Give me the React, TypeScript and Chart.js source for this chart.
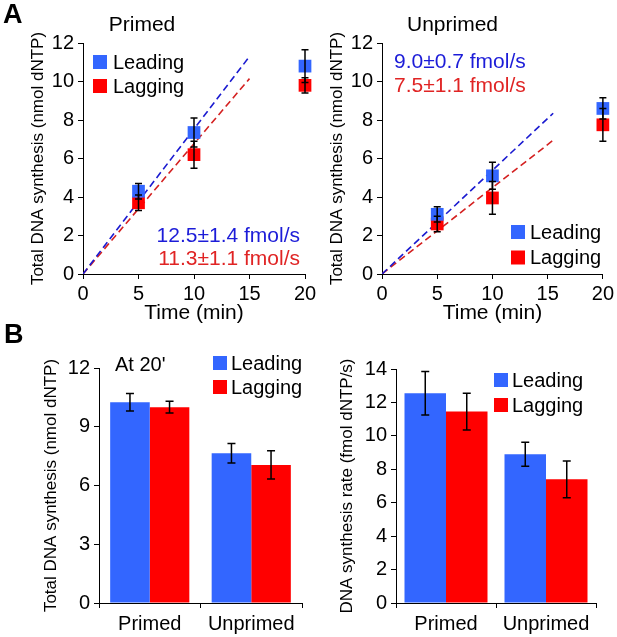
import React, { useEffect, useRef } from "react";
import { Chart, registerables } from "chart.js";
Chart.register(...registerables);

const FONT = "'Liberation Sans', Arial, sans-serif";
const BLUE = "#3366ff";
const RED = "#ff0000";
const LINE_BLUE = "#1a1ad0";
const LINE_RED = "#d42020";
const TEXT_BLUE = "#1c1cd8";
const TEXT_RED = "#e02424";

// ---------- Panel A data ----------
const timePoints = [5, 10, 20];
const timeTicks = [0, 5, 10, 15, 20];
const primedLeading = [4.3, 7.35, 10.8];
const primedLeadingErr = [0.4, 0.75, 0.85];
const primedLagging = [3.7, 6.2, 9.8];
const primedLaggingErr = [0.4, 0.7, 0.4];
const unprimedLeading = [3.1, 5.1, 8.6];
const unprimedLeadingErr = [0.4, 0.7, 0.55];
const unprimedLagging = [2.6, 3.95, 7.75];
const unprimedLaggingErr = [0.4, 0.85, 0.85];
// linear fit lines (end points)
const primedFitX = [0, 15];
const primedLeadingFit = [0, 11.3];
const primedLaggingFit = [0, 10.15];
const unprimedFitX = [0, 15.5];
const unprimedLeadingFit = [0, 8.35];
const unprimedLaggingFit = [0, 6.95];
const primedRates = ["12.5±1.4 fmol/s", "11.3±1.1 fmol/s"];
const unprimedRates = ["9.0±0.7 fmol/s", "7.5±1.1 fmol/s"];
const seriesNames = ["Leading", "Lagging"];

// ---------- Panel B data ----------
const conditions = ["Primed", "Unprimed"];
const totalLeading = [10.25, 7.65];
const totalLeadingErr = [0.45, 0.5];
const totalLagging = [10.0, 7.05];
const totalLaggingErr = [0.3, 0.72];
const rateLeading = [12.55, 8.9];
const rateLeadingErr = [1.3, 0.72];
const rateLagging = [11.45, 7.4];
const rateLaggingErr = [1.1, 1.1];

// ---------- plugins ----------
const errorBarPlugin = {
  id: "errorBars",
  afterDatasetsDraw(chart: any, _args: any, opts: any) {
    const ctx = chart.ctx;
    ctx.save();
    ctx.strokeStyle = "#000";
    ctx.lineWidth = opts.lineWidth || 1.5;
    const cap = (opts.cap || 7) / 2;
    chart.data.datasets.forEach((ds: any, i: number) => {
      if (!ds.errors) return;
      const meta = chart.getDatasetMeta(i);
      const yScale = chart.scales[meta.yAxisID];
      meta.data.forEach((el: any, j: number) => {
        const raw = ds.data[j];
        const v = typeof raw === "object" ? raw.y : raw;
        const e = ds.errors[j];
        const x = el.x;
        const yt = yScale.getPixelForValue(v + e);
        const yb = yScale.getPixelForValue(v - e);
        ctx.beginPath();
        ctx.moveTo(x, yt);
        ctx.lineTo(x, yb);
        ctx.moveTo(x - cap, yt);
        ctx.lineTo(x + cap, yt);
        ctx.moveTo(x - cap, yb);
        ctx.lineTo(x + cap, yb);
        ctx.stroke();
      });
    });
    ctx.restore();
  },
};

const squareLegendPlugin = {
  id: "squareLegend",
  afterDraw(chart: any, _args: any, opts: any) {
    if (!opts || opts.x === undefined) return;
    const ctx = chart.ctx;
    ctx.save();
    ctx.font = `${opts.size || 20}px ${FONT}`;
    ctx.textBaseline = "middle";
    ctx.textAlign = "left";
    let row = 0;
    chart.data.datasets.forEach((ds: any) => {
      if (!ds.inLegend) return;
      const cy = opts.y + row * opts.spacing;
      const b = opts.box || 14;
      ctx.fillStyle = ds.backgroundColor;
      ctx.fillRect(opts.x, cy - b / 2, b, b);
      ctx.fillStyle = "#000";
      ctx.fillText(ds.label, opts.textX, cy + 1);
      row++;
    });
    ctx.restore();
  },
};

const textPlugin = {
  id: "texts",
  afterDraw(chart: any, _args: any, opts: any) {
    if (!opts || !opts.items) return;
    const ctx = chart.ctx;
    ctx.save();
    ctx.textBaseline = "middle";
    opts.items.forEach((it: any) => {
      ctx.font = `${it.bold ? "bold " : ""}${it.size}px ${FONT}`;
      ctx.fillStyle = it.color || "#000";
      ctx.textAlign = it.align || "left";
      ctx.fillText(it.text, it.x, it.y);
    });
    ctx.restore();
  },
};

Chart.register(errorBarPlugin, squareLegendPlugin, textPlugin);

type Area = { left: number; top: number; right: number; bottom: number };

function axisCommon() {
  return {
    grid: { display: true, drawOnChartArea: false, color: "#000", tickLength: 5, lineWidth: 1 },
    border: { display: true, color: "#000", width: 1 },
  };
}

function buildTimeCourse(
  w: number,
  h: number,
  area: Area,
  leading: number[],
  leadingErr: number[],
  lagging: number[],
  laggingErr: number[],
  fitX: number[],
  leadFit: number[],
  lagFit: number[],
  yTitlePad: number,
  legend: any,
  texts: any[]
) {
  const pts = (ys: number[]) => timePoints.map((t, i) => ({ x: t, y: ys[i] }));
  const fit = (ys: number[]) => fitX.map((t, i) => ({ x: t, y: ys[i] }));
  return {
    type: "scatter",
    data: {
      datasets: [
        {
          label: seriesNames[0],
          inLegend: true,
          data: pts(leading),
          errors: leadingErr,
          backgroundColor: BLUE,
          borderWidth: 0,
          pointStyle: "rect",
          pointRadius: 9,
          pointHoverRadius: 9,
          clip: false,
        },
        {
          label: seriesNames[1],
          inLegend: true,
          data: pts(lagging),
          errors: laggingErr,
          backgroundColor: RED,
          borderWidth: 0,
          pointStyle: "rect",
          pointRadius: 9,
          pointHoverRadius: 9,
          clip: false,
        },
        {
          type: "line",
          label: "fit leading",
          data: fit(leadFit),
          borderColor: LINE_BLUE,
          borderWidth: 1.6,
          borderDash: [7, 4],
          pointRadius: 0,
          fill: false,
          showLine: true,
        },
        {
          type: "line",
          label: "fit lagging",
          data: fit(lagFit),
          borderColor: LINE_RED,
          borderWidth: 1.6,
          borderDash: [7, 4],
          pointRadius: 0,
          fill: false,
          showLine: true,
        },
      ],
    },
    options: {
      responsive: false,
      maintainAspectRatio: false,
      animation: false,
      events: [],
      layout: { padding: { top: area.top, right: w - area.right, left: 0, bottom: 0 } },
      plugins: {
        legend: { display: false },
        tooltip: { enabled: false },
        errorBars: { cap: 7, lineWidth: 1.5 },
        squareLegend: legend,
        texts: { items: texts },
      },
      scales: {
        x: {
          type: "linear",
          min: 0,
          max: 20,
          afterBuildTicks: (s: any) => {
            s.ticks = timeTicks.map((v) => ({ value: v }));
          },
          afterFit: (s: any) => {
            s.height = h - area.bottom;
          },
          ticks: { font: { family: FONT, size: 20 }, color: "#000", padding: 3, maxRotation: 0 },
          title: {
            display: true,
            text: "Time (min)",
            color: "#000",
            font: { family: FONT, size: 21 },
            padding: { top: 0, bottom: 4 },
          },
          ...axisCommon(),
        },
        y: {
          min: 0,
          max: 12,
          ticks: { stepSize: 2, font: { family: FONT, size: 20 }, color: "#000", padding: 4 },
          afterFit: (s: any) => {
            s.width = area.left;
          },
          title: {
            display: true,
            text: "Total DNA synthesis (nmol dNTP)",
            color: "#000",
            font: { family: FONT, size: 17 },
            padding: { top: yTitlePad, bottom: 0 },
          },
          ...axisCommon(),
        },
      },
    },
  };
}

function buildBars(
  w: number,
  h: number,
  area: Area,
  leading: number[],
  leadingErr: number[],
  lagging: number[],
  laggingErr: number[],
  yMax: number,
  yStep: number,
  yTitle: string,
  yTitlePad: number,
  catPct: number,
  legend: any,
  texts: any[]
) {
  return {
    type: "bar",
    data: {
      labels: conditions,
      datasets: [
        {
          label: seriesNames[0],
          inLegend: true,
          data: leading,
          errors: leadingErr,
          backgroundColor: BLUE,
          borderWidth: 0,
          barPercentage: 1,
          categoryPercentage: catPct,
        },
        {
          label: seriesNames[1],
          inLegend: true,
          data: lagging,
          errors: laggingErr,
          backgroundColor: RED,
          borderWidth: 0,
          barPercentage: 1,
          categoryPercentage: catPct,
        },
      ],
    },
    options: {
      responsive: false,
      maintainAspectRatio: false,
      animation: false,
      events: [],
      layout: { padding: { top: area.top, right: w - area.right, left: 0, bottom: 0 } },
      plugins: {
        legend: { display: false },
        tooltip: { enabled: false },
        errorBars: { cap: 8, lineWidth: 1.5 },
        squareLegend: legend,
        texts: { items: texts },
      },
      scales: {
        x: {
          afterFit: (s: any) => {
            s.height = h - area.bottom;
          },
          ticks: { font: { family: FONT, size: 20 }, color: "#000", padding: 4, maxRotation: 0 },
          ...axisCommon(),
          grid: { display: true, drawOnChartArea: false, color: "#000", tickLength: 5, lineWidth: 1, offset: true },
        },
        y: {
          min: 0,
          max: yMax,
          ticks: { stepSize: yStep, font: { family: FONT, size: 20 }, color: "#000", padding: 4 },
          afterFit: (s: any) => {
            s.width = area.left;
          },
          title: {
            display: true,
            text: yTitle,
            color: "#000",
            font: { family: FONT, size: 17 },
            padding: { top: yTitlePad, bottom: 0 },
          },
          ...axisCommon(),
        },
      },
    },
  };
}

function ChartCanvas(props: { left: number; top: number; width: number; height: number; build: () => any }) {
  const ref = useRef<HTMLCanvasElement>(null);
  useEffect(() => {
    const chart = new Chart(ref.current as HTMLCanvasElement, props.build());
    return () => chart.destroy();
  }, []);
  return (
    <canvas
      ref={ref}
      width={props.width}
      height={props.height}
      style={{ position: "absolute", left: props.left, top: props.top, width: props.width, height: props.height }}
    />
  );
}

export default function App() {
  const AL = { w: 320, h: 330 };
  const AR = { w: 305, h: 330 };
  const BL = { w: 312, h: 319 };
  const BR = { w: 305, h: 319 };
  return (
    <div style={{ position: "absolute", left: 0, top: 0, width: 617, height: 637, background: "#fff", overflow: "hidden" }}>
      <ChartCanvas
        left={0}
        top={0}
        width={AL.w}
        height={AL.h}
        build={() =>
          buildTimeCourse(
            AL.w,
            AL.h,
            { left: 83, top: 43, right: 305, bottom: 274 },
            primedLeading,
            primedLeadingErr,
            primedLagging,
            primedLaggingErr,
            primedFitX,
            primedLeadingFit,
            primedLaggingFit,
            28,
            { x: 93, y: 62, spacing: 24, box: 14, textX: 113, size: 20 },
            [
              { text: "A", x: 3, y: 16, size: 27, bold: true },
              { text: "Primed", x: 142, y: 25, size: 21, align: "center" },
              { text: primedRates[0], x: 300, y: 236, size: 21, align: "right", color: TEXT_BLUE },
              { text: primedRates[1], x: 300, y: 259, size: 21, align: "right", color: TEXT_RED },
            ]
          )
        }
      />
      <ChartCanvas
        left={312}
        top={0}
        width={AR.w}
        height={AR.h}
        build={() =>
          buildTimeCourse(
            AR.w,
            AR.h,
            { left: 70, top: 43, right: 292, bottom: 274 },
            unprimedLeading,
            unprimedLeadingErr,
            unprimedLagging,
            unprimedLaggingErr,
            unprimedFitX,
            unprimedLeadingFit,
            unprimedLaggingFit,
            15,
            { x: 199, y: 232, spacing: 25.5, box: 14, textX: 218, size: 20 },
            [
              { text: "Unprimed", x: 140.5, y: 25, size: 21, align: "center" },
              { text: unprimedRates[0], x: 82, y: 62, size: 21, align: "left", color: TEXT_BLUE },
              { text: unprimedRates[1], x: 82, y: 86, size: 21, align: "left", color: TEXT_RED },
            ]
          )
        }
      />
      <ChartCanvas
        left={0}
        top={318}
        width={BL.w}
        height={BL.h}
        build={() =>
          buildBars(
            BL.w,
            BL.h,
            { left: 99, top: 50, right: 302, bottom: 285 },
            totalLeading,
            totalLeadingErr,
            totalLagging,
            totalLaggingErr,
            12,
            3,
            "Total DNA synthesis (nmol dNTP)",
            41,
            0.78,
            { x: 213, y: 45, spacing: 24, box: 14, textX: 231, size: 20 },
            [
              { text: "B", x: 4, y: 18, size: 27, bold: true },
              { text: "At 20'", x: 115, y: 47, size: 20, align: "left" },
            ]
          )
        }
      />
      <ChartCanvas
        left={312}
        top={318}
        width={BR.w}
        height={BR.h}
        build={() =>
          buildBars(
            BR.w,
            BR.h,
            { left: 84, top: 51, right: 284, bottom: 285 },
            rateLeading,
            rateLeadingErr,
            rateLagging,
            rateLaggingErr,
            14,
            2,
            "DNA synthesis rate (fmol dNTP/s)",
            25,
            0.83,
            { x: 182, y: 62, spacing: 25, box: 14, textX: 200, size: 20 },
            []
          )
        }
      />
    </div>
  );
}
